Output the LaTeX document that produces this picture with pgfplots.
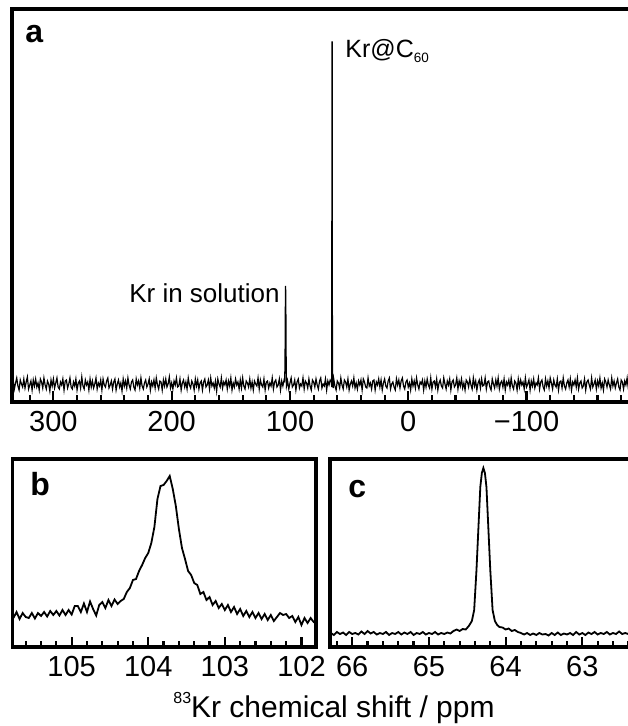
\documentclass[border=0pt]{standalone}
\usepackage{fontspec}
\setmainfont{Liberation Sans}
\usepackage{pgfplots}
\pgfplotsset{compat=1.18}

% 1 px of the reference = 0.5pt
\pgfplotsset{
  nmr/.style={
    scale only axis, anchor=north west, x dir=reverse,
    axis line style={line width=1.6pt},
    ytick=\empty, xtick pos=left, tick align=inside,
    major tick style={black, line width=1.1pt},
    minor tick style={black, line width=1.1pt},
    /pgf/number format/assume math mode=true,
    ticklabel style={font=\fontsize{14.5}{16}\selectfont, yshift=-1.2pt},
    clip=true,
  },
}

\begin{document}
\begin{tikzpicture}
\useasboundingbox (0,0) rectangle (313.5pt,-363pt);

% ---- panel a
\begin{axis}[nmr, at={(6pt,-4.5pt)}, width=309.5pt, height=196.5pt,
  xmin=-188.3, xmax=335, ymin=-18, ymax=375,
  xtick={300,200,100,0,-100}, xticklabels={300,200,100,0,−100},
  minor xtick={-180,-160,...,320},
  major tick length=5.6pt, minor tick length=3.6pt]
\addplot[black, line width=0.6pt] table[row sep=\\] {
x y\\
334 3\\333 -5\\332 1\\331 6\\330 -2\\329 -6\\328 4\\327 0\\326 -3\\325 5\\324 -4\\323 2\\322 7\\321 -5\\320 -1\\319 3\\318 -6\\317 4\\316 -2\\315 5\\
314 -3\\313 1\\312 -6\\311 5\\310 2\\309 -4\\308 6\\307 -1\\306 -5\\305 3\\304 0\\303 -7\\302 4\\301 -2\\300 5\\299 -4\\298 1\\297 6\\296 -3\\295 -5\\
294 2\\293 -1\\292 5\\291 -6\\290 3\\289 4\\288 -4\\287 0\\286 6\\285 -3\\284 -5\\283 2\\282 -2\\281 5\\280 -6\\279 1\\278 3\\277 -4\\276 7\\275 -2\\
274 -5\\273 4\\272 -1\\271 2\\270 -6\\269 5\\268 -3\\267 3\\266 -4\\265 0\\264 6\\263 -5\\262 1\\261 -2\\260 4\\259 -6\\258 5\\257 -1\\256 -3\\255 3\\
254 6\\253 -4\\252 -1\\251 3\\250 -5\\249 2\\248 5\\247 -6\\246 0\\245 4\\244 -3\\243 1\\242 -7\\241 5\\240 -2\\239 3\\238 -4\\237 6\\236 -1\\235 -5\\
234 2\\233 4\\232 -3\\231 -6\\230 5\\229 -1\\228 3\\227 -4\\226 6\\225 -2\\224 -5\\223 1\\222 4\\221 -3\\220 0\\219 5\\218 -6\\217 2\\216 -2\\215 4\\
214 -4\\213 6\\212 -1\\211 -5\\210 3\\209 2\\208 -6\\207 4\\206 -2\\205 5\\204 -3\\203 0\\202 7\\201 -4\\200 1\\199 -5\\198 3\\197 -1\\196 6\\195 -3\\
194 -2\\193 5\\192 -6\\191 1\\190 4\\189 -3\\188 2\\187 -5\\186 6\\185 -1\\184 -4\\183 3\\182 0\\181 -6\\180 5\\179 -2\\178 4\\177 -5\\176 1\\175 3\\
174 -6\\173 2\\172 5\\171 -3\\170 -1\\169 4\\168 -5\\167 6\\166 -2\\165 1\\164 -4\\163 3\\162 -7\\161 5\\160 0\\159 -3\\158 6\\157 -4\\156 2\\155 -1\\
154 4\\153 -5\\152 3\\151 -2\\150 6\\149 -6\\148 1\\147 -3\\146 5\\145 -1\\144 2\\143 -5\\142 4\\141 -4\\140 6\\139 -2\\138 -5\\137 3\\136 1\\135 -3\\
134 5\\133 -4\\132 2\\131 -6\\130 3\\129 0\\128 -2\\127 6\\126 -5\\125 4\\124 -1\\123 -3\\122 5\\121 -6\\120 2\\119 3\\118 -4\\117 1\\116 -2\\115 6\\
114 -5\\113 2\\112 4\\111 -3\\110 -1\\109 5\\108 -6\\107 3\\106 -2\\105 4\\
104.5 3\\104.2 20\\103.9 80\\103.7 98\\103.5 80\\103.2 20\\102.9 -2\\
102 3\\101 -5\\100 1\\99 6\\98 -3\\97 -1\\96 4\\95 -6\\94 2\\93 5\\92 -4\\91 0\\90 -2\\89 6\\88 -5\\87 3\\86 1\\85 -4\\84 5\\83 -2\\
82 -6\\81 4\\80 2\\79 -3\\78 5\\77 -1\\76 -5\\75 3\\74 6\\73 -4\\72 0\\71 -2\\70 5\\69 -6\\68 3\\67 -1\\66 4\\
65 2\\64.7 -3\\64.5 342\\64.3 342\\64.1 3\\63.5 -4\\
63 5\\62 -2\\61 -6\\60 3\\59 1\\58 -4\\57 6\\56 -1\\55 -5\\54 4\\53 2\\52 -3\\51 5\\50 -6\\49 0\\48 3\\47 -2\\46 6\\45 -4\\44 1\\
43 -5\\42 3\\41 -1\\40 4\\39 -6\\38 5\\37 2\\36 -3\\35 -4\\34 6\\33 -2\\32 1\\31 -5\\30 3\\29 4\\28 -6\\27 2\\26 -1\\25 5\\24 -3\\
23 4\\22 -6\\21 1\\20 5\\19 -2\\18 -4\\17 3\\16 6\\15 -5\\14 0\\13 2\\12 -3\\11 -6\\10 5\\9 -1\\8 4\\7 -4\\6 3\\5 6\\4 -2\\
3 -5\\2 2\\1 4\\0 -3\\-1 1\\-2 -6\\-3 5\\-4 -2\\-5 3\\-6 -4\\-7 6\\-8 -1\\-9 -5\\-10 2\\-11 0\\-12 4\\-13 -6\\-14 3\\-15 -3\\-16 5\\
-17 -1\\-18 -4\\-19 6\\-20 -5\\-21 2\\-22 3\\-23 -3\\-24 5\\-25 -6\\-26 1\\-27 4\\-28 -2\\-29 -4\\-30 6\\-31 0\\-32 -5\\-33 3\\-34 -1\\-35 5\\-36 -6\\
-37 2\\-38 4\\-39 -3\\-40 -1\\-41 6\\-42 -5\\-43 3\\-44 -2\\-45 5\\-46 -4\\-47 1\\-48 -6\\-49 4\\-50 2\\-51 -3\\-52 5\\-53 -1\\-54 -5\\-55 6\\-56 -2\\
-57 3\\-58 -6\\-59 1\\-60 4\\-61 -4\\-62 5\\-63 -2\\-64 -1\\-65 6\\-66 -5\\-67 2\\-68 3\\-69 -3\\-70 -6\\-71 5\\-72 0\\-73 -4\\-74 4\\-75 -2\\-76 6\\
-77 -5\\-78 1\\-79 3\\-80 -3\\-81 5\\-82 -6\\-83 2\\-84 -1\\-85 4\\-86 -4\\-87 6\\-88 -2\\-89 -5\\-90 3\\-91 1\\-92 -6\\-93 5\\-94 -3\\-95 4\\-96 -1\\
-97 2\\-98 -5\\-99 6\\-100 -3\\-101 0\\-102 4\\-103 -6\\-104 3\\-105 -2\\-106 5\\-107 -4\\-108 1\\-109 -1\\-110 6\\-111 -5\\-112 2\\-113 4\\-114 -3\\-115 -6\\-116 5\\
-117 -2\\-118 3\\-119 -4\\-120 6\\-121 1\\-122 -5\\-123 4\\-124 -1\\-125 -3\\-126 5\\-127 -6\\-128 2\\-129 3\\-130 -4\\-131 6\\-132 -2\\-133 -5\\-134 1\\-135 4\\-136 -3\\
-137 5\\-138 -6\\-139 2\\-140 -1\\-141 4\\-142 -3\\-143 6\\-144 -5\\-145 1\\-146 3\\-147 -4\\-148 -2\\-149 5\\-150 -6\\-151 2\\-152 4\\-153 -1\\-154 -5\\-155 6\\-156 -3\\
-157 0\\-158 4\\-159 -5\\-160 3\\-161 -2\\-162 6\\-163 -4\\-164 1\\-165 -6\\-166 5\\-167 2\\-168 -3\\-169 4\\-170 -1\\-171 -5\\-172 6\\-173 -2\\-174 3\\-175 -4\\-176 1\\
-177 5\\-178 -3\\-179 -6\\-180 4\\-181 2\\-182 -5\\-183 3\\-184 -1\\-185 6\\-186 -4\\-187 -2\\-188 5\\-189 -6\\-190 3\\
};
\end{axis}

% ---- panel b
\begin{axis}[nmr, at={(6.35pt,-229.5pt)}, width=151.65pt, height=94pt,
  xmin=101.81, xmax=105.77, ymin=0, ymax=188,
  xtick={102,103,104,105}, minor xtick={101.8,102,...,105.8},
  major tick length=4.8pt, minor tick length=3pt]
\addplot[black, line width=0.9pt] coordinates {
(105.76,29)(105.72,35)(105.68,28)(105.64,34)(105.60,30)(105.56,29)(105.52,34)(105.48,28.5)(105.44,34)(105.40,31)
(105.36,35)(105.32,30.5)(105.28,36)(105.24,32)(105.20,36)(105.16,31.5)(105.12,37)(105.08,32)(105.04,37)(105.00,32.5)
(104.96,41)(104.92,41)(104.88,35)(104.84,43.5)(104.80,35)(104.76,45.5)(104.72,38)(104.68,31.5)(104.64,42)(104.60,45)
(104.56,39)(104.52,47)(104.48,41)(104.44,47.5)(104.40,43)(104.36,46)(104.32,48)(104.28,55)(104.24,59)(104.20,67)
(104.16,68)(104.12,76)(104.08,82)(104.04,89)(104.00,94)(103.96,104)(103.92,120)(103.88,148)(103.84,161)(103.80,162)
(103.76,166)(103.72,171)(103.68,158)(103.64,141)(103.60,118)(103.56,99)(103.52,88)(103.48,76)(103.44,72)(103.40,64)
(103.36,62)(103.32,53)(103.28,55)(103.24,47)(103.20,50)(103.16,42)(103.12,46)(103.08,39)(103.04,43)(103.00,37)
(102.96,42)(102.92,35)(102.88,40)(102.84,33)(102.80,38)(102.76,31)(102.72,36)(102.68,30)(102.64,35)(102.60,29)
(102.56,34)(102.52,28)(102.48,33)(102.44,27)(102.40,32)(102.36,26)(102.32,30)(102.28,34)(102.24,32)(102.20,33)
(102.16,29)(102.12,31)(102.08,25)(102.04,30)(102.00,22)(101.96,29)(101.92,24)(101.88,29)(101.84,25)(101.80,27)
};
\end{axis}

% ---- panel c
\begin{axis}[nmr, at={(165pt,-229.5pt)}, width=150.5pt, height=94pt,
  xmin=62.365, xmax=66.29, ymin=0, ymax=188,
  xtick={63,64,65,66}, minor xtick={62.4,62.6,...,66.2},
  major tick length=4.8pt, minor tick length=3pt]
\addplot[black, line width=0.9pt] coordinates {
(66.28,14)(66.24,12)(66.20,15)(66.16,13)(66.12,14.5)(66.08,12)(66.04,15)(66.00,13)(65.96,14)(65.92,12.5)
(65.88,15.5)(65.84,13)(65.80,16)(65.76,13.5)(65.72,15)(65.68,12.5)(65.64,14)(65.60,13)(65.56,15)(65.52,12)
(65.48,14)(65.44,13)(65.40,15)(65.36,12.5)(65.32,14.5)(65.28,13)(65.24,15)(65.20,12)(65.16,14)(65.12,13)
(65.08,15)(65.04,12.5)(65.00,14)(64.96,13)(64.92,15)(64.88,12.5)(64.84,14)(64.80,13)(64.76,14.5)(64.72,13.5)
(64.68,16)(64.64,17.5)(64.60,16)(64.56,18)(64.52,17.5)(64.48,21)
(64.44,26)(64.41,37)(64.38,77)(64.35,127)(64.33,160)(64.31,174)(64.29,179)(64.27,174)(64.25,160)(64.23,127)
(64.20,77)(64.17,37)(64.14,26)(64.11,22)(64.08,20)(64.04,19.5)(64.00,17.5)
(63.96,18.5)(63.92,16)(63.88,17)(63.84,15)(63.80,14)(63.76,12.5)(63.72,14)(63.68,12)(63.64,13.5)(63.60,12)
(63.56,14)(63.52,12.5)(63.48,13)(63.44,11.5)(63.40,14)(63.36,12)(63.32,14.5)(63.28,12)(63.24,13.5)(63.20,12.5)
(63.16,14)(63.12,12)(63.08,15)(63.04,12.5)(63.00,14)(62.96,12)(62.92,14.5)(62.88,13)(62.84,15)(62.80,12.5)
(62.76,14)(62.72,13)(62.68,15)(62.64,12.5)(62.60,14)(62.56,13)(62.52,15.5)(62.48,13)(62.44,14)(62.40,13)
};
\end{axis}

% ---- texts
\begin{scope}[every node/.style={inner sep=0pt}]
\node[anchor=base west, font=\fontsize{16}{18}\selectfont\bfseries] at (12.5pt,-21.5pt) {a};
\node[anchor=base west, font=\fontsize{16}{18}\selectfont\bfseries] at (15pt,-247.5pt) {b};
\node[anchor=base west, font=\fontsize{16}{18}\selectfont\bfseries] at (174pt,-248.5pt) {c};
\node[anchor=base east, font=\fontsize{13}{15}\selectfont] at (140pt,-151.5pt) {Kr in solution};
\node[anchor=base west, font=\fontsize{12.5}{15}\selectfont] at (172.5pt,-29pt)
  {Kr@C\raisebox{-2.5pt}{\fontsize{6.75}{7}\selectfont 60}};
\node[anchor=base, font=\fontsize{15}{17}\selectfont] at (167pt,-358.5pt)
  {\raisebox{7pt}{\fontsize{8}{9}\selectfont 83}Kr chemical shift / ppm};
\end{scope}
\end{tikzpicture}
\end{document}
